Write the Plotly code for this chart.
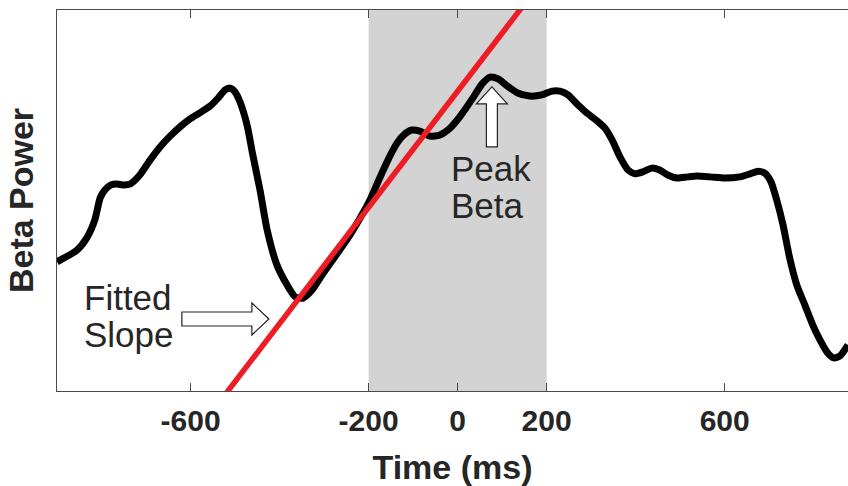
import plotly.graph_objects as go

# ---- data ----
time_ms = [-900, -855, -833, -815, -803, -792, -779, -765, -752, -736, -714, -691, -669, -646,
           -624, -601, -579, -556, -538, -523, -511, -500, -489, -473, -460, -444, -428, -406,
           -383, -365, -347, -327, -305, -276, -246, -219, -197, -175, -152, -134, -118, -103,
           -85, -62, -40, -17, 1, 19, 37, 55, 73, 91, 111, 135, 162, 189, 212, 230, 248, 266,
           288, 311, 331, 347, 365, 383, 398, 416, 436, 454, 472, 493, 517, 538, 567, 600, 634,
           657, 675, 690, 704, 717, 731, 746, 762, 780, 798, 814, 830, 845, 859, 877]
beta_power = [33.9, 37.0, 40.2, 44.9, 50.7, 52.8, 54.1, 54.3, 54.1, 54.3, 56.7, 60.6, 64.0, 66.9,
              69.3, 71.4, 73.0, 74.8, 76.9, 79.0, 79.5, 78.5, 75.9, 69.8, 61.9, 52.8, 42.3, 33.1,
              27.8, 24.7, 24.4, 26.5, 30.4, 35.2, 40.2, 45.4, 50.1, 55.9, 61.7, 65.4, 67.5, 68.5,
              68.2, 66.9, 67.2, 69.0, 71.4, 74.3, 77.4, 80.6, 82.4, 81.9, 80.1, 78.2, 77.4, 77.7,
              78.7, 78.7, 77.7, 75.6, 73.2, 71.1, 69.0, 65.9, 61.4, 58.0, 57.0, 57.5, 58.5, 58.0,
              56.7, 55.9, 56.2, 56.4, 56.2, 55.9, 56.2, 57.0, 57.7, 57.2, 54.9, 50.1, 43.6, 34.9,
              27.8, 22.6, 17.3, 13.4, 10.2, 8.7, 9.2, 12.1]

fit_time = [-600, 250]
fit_power = [-12.8, 116.8]

window_ms = [-200, 200]

tick_vals = [-600, -200, 0, 200, 600]
tick_text = ["-600", "-200", "0", "200", "600"]

x_range = [-900, 877]
y_range = [0, 100]

# annotation anchors (data coords)
fitted_arrow_tip = (-424, 18.9)
peak_arrow_tip = (77, 79.8)

TXT = "#262626"
AX = "#4a4a4a"
FONT = "Liberation Sans, Arial, Helvetica, sans-serif"

fig = go.Figure()

fig.add_trace(go.Scatter(x=time_ms, y=beta_power, mode="lines",
                         line=dict(color="black", width=7, shape="spline", smoothing=0.6),
                         hoverinfo="skip", showlegend=False))
fig.add_trace(go.Scatter(x=fit_time, y=fit_power, mode="lines",
                         line=dict(color="#ee1c25", width=5.5),
                         hoverinfo="skip", showlegend=False))

# gray analysis window
fig.add_shape(type="rect", xref="x", yref="paper", x0=window_ms[0], x1=window_ms[1], y0=0, y1=1,
              fillcolor="#d3d3d3", line=dict(width=0), layer="below")

# block arrows
fig.add_shape(type="path", xref="x", yref="y", xsizemode="pixel", ysizemode="pixel",
              xanchor=fitted_arrow_tip[0], yanchor=fitted_arrow_tip[1],
              path="M0,0 L-17,16 L-17,7 L-87,7 L-87,-7 L-17,-7 L-17,-16 Z",
              fillcolor="white", line=dict(color="#222222", width=1.2), layer="above")
fig.add_shape(type="path", xref="x", yref="y", xsizemode="pixel", ysizemode="pixel",
              xanchor=peak_arrow_tip[0], yanchor=peak_arrow_tip[1],
              path="M0,0 L15.5,-17 L5.5,-17 L5.5,-60 L-5.5,-60 L-5.5,-17 L-15.5,-17 Z",
              fillcolor="white", line=dict(color="#222222", width=1.2), layer="above")

ann_font = dict(family=FONT, size=35, color=TXT)
for txt, x, y in [("Fitted", -842, 24.5), ("Slope", -842, 14.8),
                  ("Peak", -17, 58.5), ("Beta", -17, 48.8)]:
    fig.add_annotation(x=x, y=y, xref="x", yref="y", text=txt, showarrow=False,
                       xanchor="left", yanchor="middle", font=ann_font, borderpad=0)

fig.update_layout(
    width=848, height=486,
    margin=dict(l=57, r=0, t=10, b=95, autoexpand=False),
    plot_bgcolor="white", paper_bgcolor="white",
    font=dict(family=FONT, color=TXT),
    showlegend=False,
)
fig.update_xaxes(range=x_range, tickvals=tick_vals, ticktext=tick_text,
                 ticks="inside", ticklen=8, tickwidth=1, tickcolor=AX,
                 showline=True, linecolor=AX, linewidth=1, mirror="ticks",
                 showgrid=False, zeroline=False, automargin=False,
                 tickfont=dict(family=FONT, size=30, color=TXT, weight="bold"),
                 ticklabelstandoff=3,
                 title=dict(text="Time (ms)", standoff=22,
                            font=dict(family=FONT, size=34, color=TXT, weight="bold")))
fig.update_yaxes(range=y_range, showticklabels=False, ticks="",
                 showline=True, linecolor=AX, linewidth=1, mirror=False,
                 showgrid=False, zeroline=False, automargin=False,
                 title=dict(text="Beta Power", standoff=12,
                            font=dict(family=FONT, size=34, color=TXT, weight="bold")))

# remove the browser's default page margin so the 848x486 figure fills the window exactly
fig.write_html("out.html", config={"displayModeBar": False},
               post_script="document.body.style.margin='0';document.body.style.overflow='hidden';")
